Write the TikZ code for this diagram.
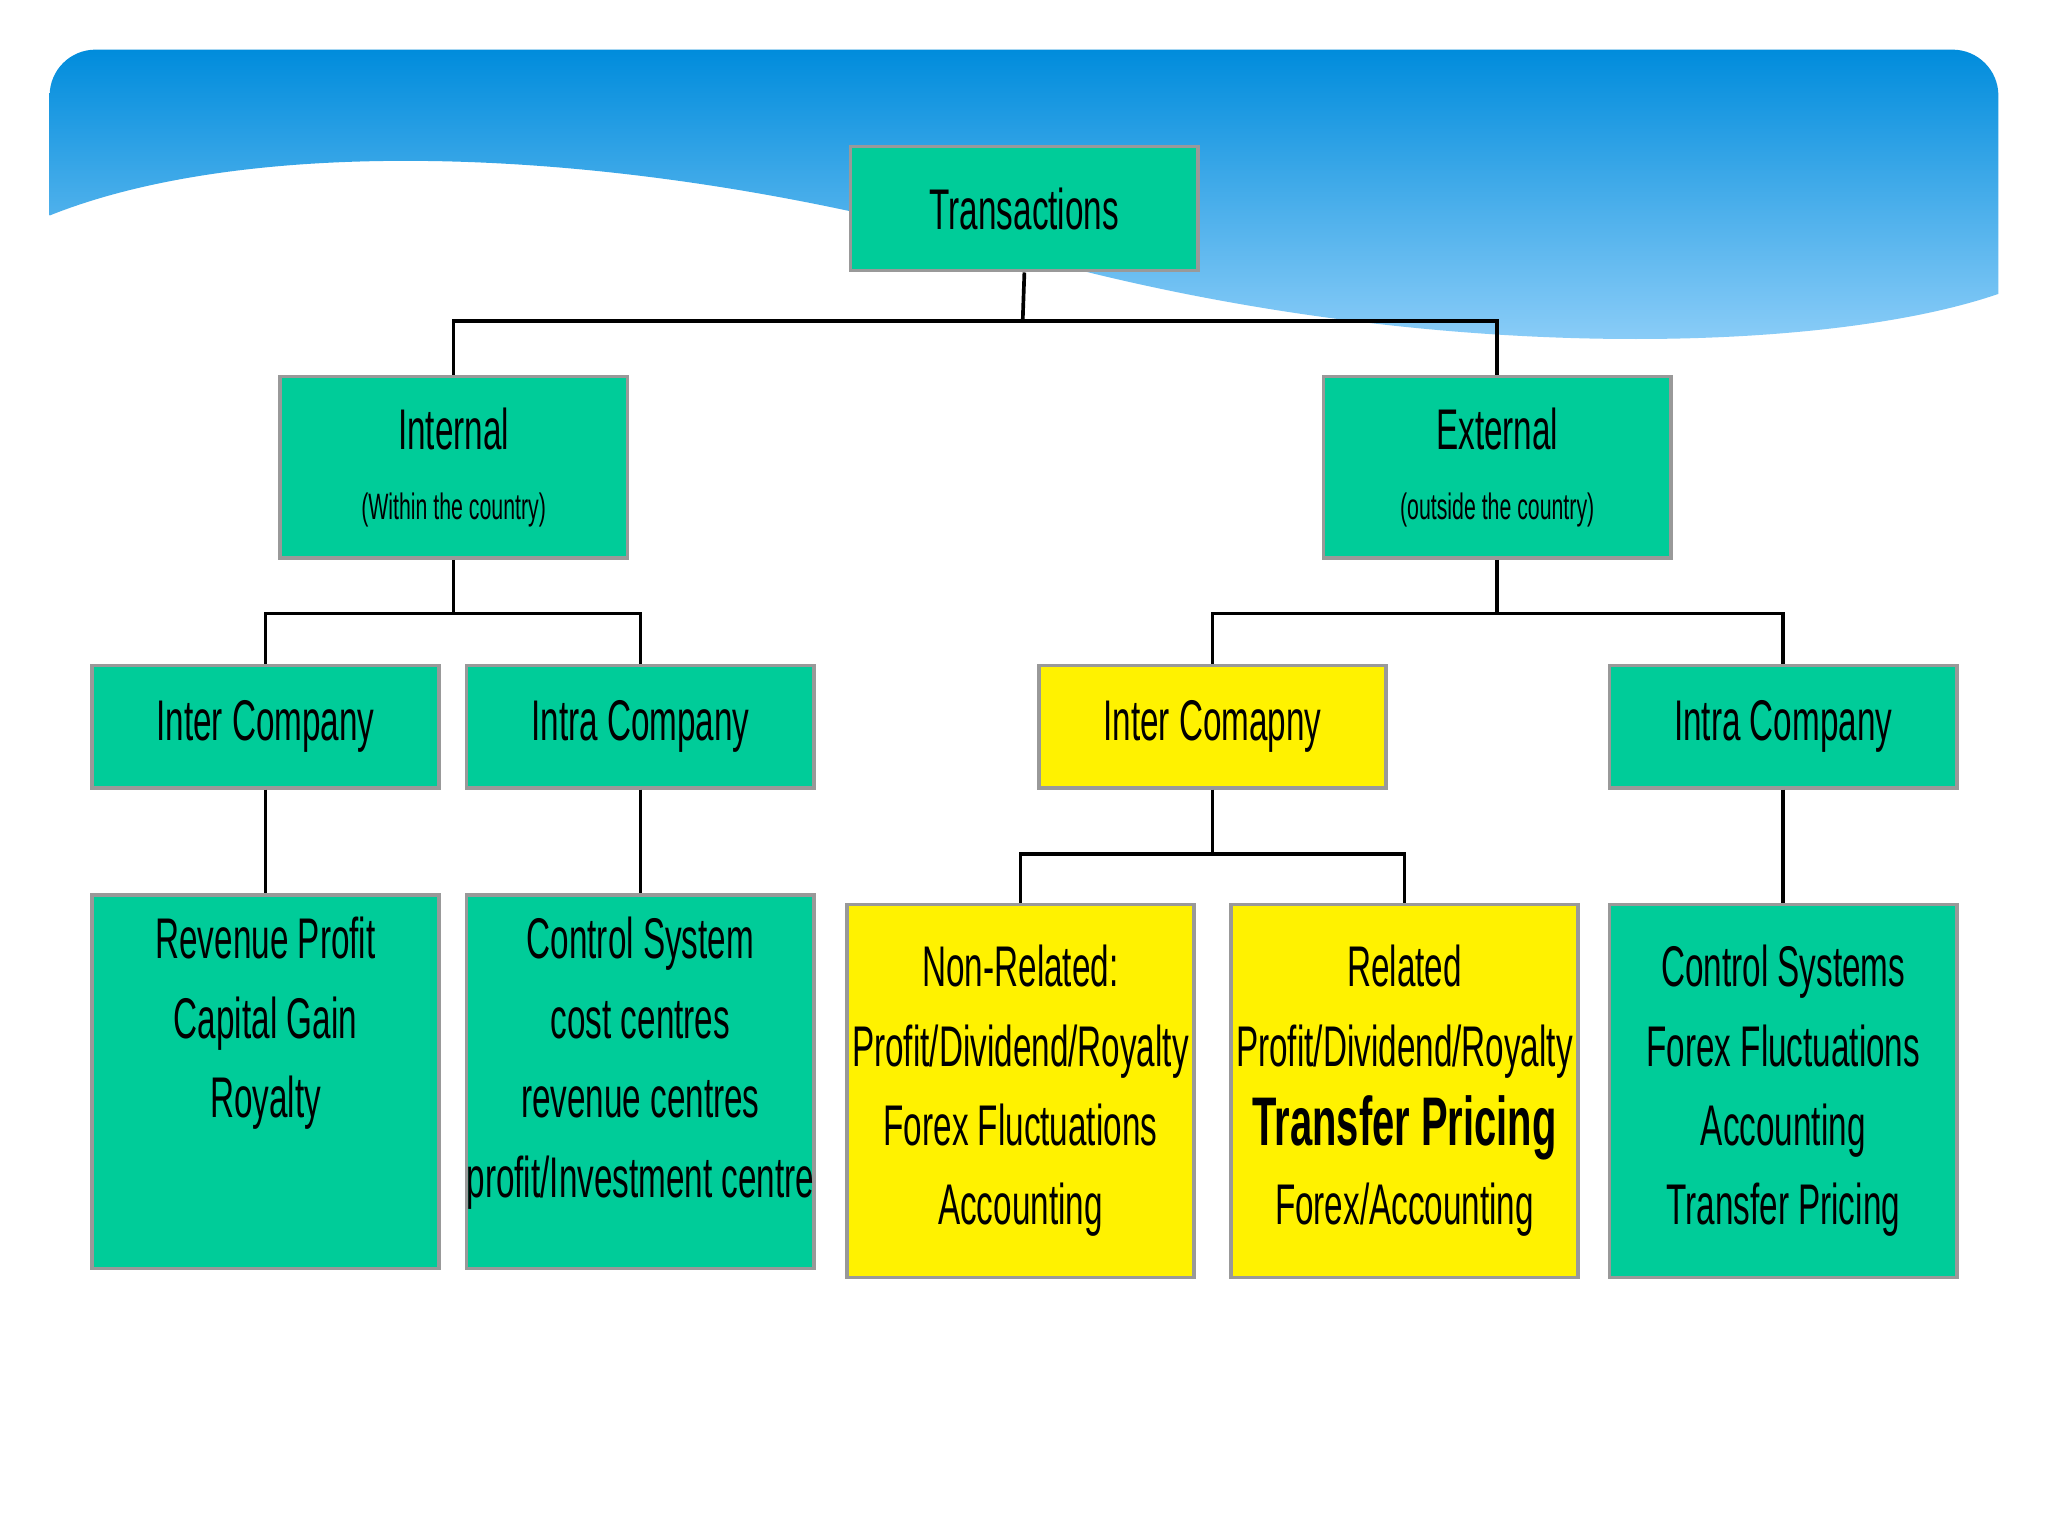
\documentclass[tikz,border=0pt]{standalone}
\usepackage{fontspec}
\setmainfont{Liberation Sans}[FakeStretch=0.58]
\begin{document}
\begin{tikzpicture}[x=0.02cm,y=-0.02cm,
  bx/.style={draw=gray!80,line width=1.5pt,fill=tgreen,inner sep=0pt,align=center,font=\fontsize{25}{34.6}\selectfont},
  yb/.style={bx,fill=yellow},
  tx/.style={align=center,font=\fontsize{25}{34.6}\selectfont,inner sep=0pt},
  ln/.style={line width=1.6pt,black}]
\definecolor{tgreen}{RGB}{0,204,153}
\useasboundingbox (0,0) rectangle (1568,1176);
\fill[white] (0,0) rectangle (1568,1176);
\begin{scope}
\clip[rounded corners=20] (38,38) rectangle (1530,300);
\shade[top color={rgb,255:red,0;green,140;blue,220},bottom color={rgb,255:red,150;green,210;blue,250}]
 (38,165) .. controls (200,100) and (500,110) .. (800,200) .. controls (1100,280) and (1400,270) .. (1530,225) -- (1530,38) -- (38,38) -- cycle;
\end{scope}
\node[bx,minimum width=5.32cm,minimum height=1.9cm,anchor=north west] (t) at (650,111) {Transactions};
\node[bx,minimum width=5.32cm,minimum height=2.78cm,anchor=north west] (int) at (213,287) {Internal\\[-4pt]{\fontsize{16}{20}\selectfont (Within the country)}};
\node[bx,minimum width=5.32cm,minimum height=2.78cm,anchor=north west] (ext) at (1012,287) {External\\[-4pt]{\fontsize{16}{20}\selectfont (outside the country)}};
\node[bx,minimum width=5.32cm,minimum height=1.88cm,anchor=north west] (a) at (69,508) {Inter Company};
\node[bx,minimum width=5.32cm,minimum height=1.88cm,anchor=north west] (b) at (356,508) {Intra Company};
\node[yb,minimum width=5.32cm,minimum height=1.88cm,anchor=north west] (c) at (794,508) {Inter Comapny};
\node[bx,minimum width=5.32cm,minimum height=1.88cm,anchor=north west] (d) at (1231,508) {Intra Company};
\node[bx,minimum width=5.32cm,minimum height=5.72cm,anchor=north west] (a1) at (69,684) {};
\node[tx,anchor=north] at ([yshift=-0.36cm]a1.north) {Revenue Profit\\Capital Gain\\Royalty};
\node[bx,minimum width=5.32cm,minimum height=5.72cm,anchor=north west] (b1) at (356,684) {};
\node[tx,anchor=north] at ([yshift=-0.36cm]b1.north) {Control System\\cost centres\\revenue centres\\profit/Investment centre};
\node[yb,minimum width=5.32cm,minimum height=5.72cm,anchor=north west] (c1) at (647,691) {Non-Related:\\Profit/Dividend/Royalty\\Forex Fluctuations\\Accounting};
\node[yb,minimum width=5.32cm,minimum height=5.72cm,anchor=north west] (c2) at (941,691) {Related\\Profit/Dividend/Royalty\\{\fontsize{30}{36}\selectfont\bfseries Transfer Pricing}\\Forex/Accounting};
\node[bx,minimum width=5.32cm,minimum height=5.72cm,anchor=north west] (d1) at (1231,691) {Control Systems\\Forex Fluctuations\\Accounting\\Transfer Pricing};
\coordinate (j1) at (783,246);
\draw[ln] (t.south) -- (j1);
\draw[ln] (int.north) |- (j1) -| (ext.north);
\draw[ln] (int.south) -- ++(0,41) coordinate (j2);
\draw[ln] (a.north) |- (j2) -| (b.north);
\draw[ln] (ext.south) -- ++(0,41) coordinate (j3);
\draw[ln] (c.north) |- (j3) -| (d.north);
\draw[ln] (c.south) -- ++(0,49) coordinate (j4);
\draw[ln] (c1.north) |- (j4) -| (c2.north);
\draw[ln] (a.south) -- (a1.north);
\draw[ln] (b.south) -- (b1.north);
\draw[ln] (d.south) -- (d1.north);
\end{tikzpicture}
\end{document}
